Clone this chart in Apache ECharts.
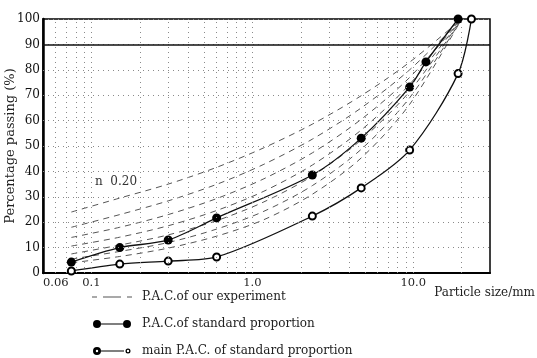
<!DOCTYPE html>
<html>
<head>
<meta charset="utf-8">
<script src="https://cdn.jsdelivr.net/npm/echarts@6/dist/echarts.min.js"></script>
<style>html,body{margin:0;padding:0;background:#fff;}#c{width:537px;height:358px;}</style>
</head>
<body>
<div id="c"></div>
<script>
// ---- data ----
const xTickLabels = [0.06, 0.1, 1, 10];
const yTicks = [0, 10, 20, 30, 40, 50, 60, 70, 80, 90, 100];
const gridX = [0.06, 0.07, 0.08, 0.09, 0.1, 0.2, 0.3, 0.4, 0.5, 0.6, 0.7, 0.8, 0.9, 1, 2, 3, 4, 5, 6, 7, 8, 9, 10, 20];
const gridY = [10, 20, 30, 40, 50, 60, 70, 80];

const upperX = [0.075, 0.15, 0.3, 0.6, 2.36, 4.75, 9.5, 12, 19];
const upperY = [4.3, 10, 13, 21.7, 38.6, 53.1, 73.2, 83.1, 100];
const lowerX = [0.075, 0.15, 0.3, 0.6, 2.36, 4.75, 9.5, 19, 23];
const lowerY = [0.8, 3.5, 4.7, 6.3, 22.4, 33.5, 48.4, 78.5, 100];

const expX = [0.075, 0.15, 0.3, 0.6, 1.18, 2.36, 4.75, 9.5, 20];
const exp1 = [24, 29.5, 35, 41.6, 49.3, 58.6, 69.8, 83, 100];
const exp2 = [18, 23, 28.4, 34.9, 42.8, 52.7, 65, 80, 100];
const exp3 = [14, 18, 23, 29.3, 37.1, 47.3, 60.5, 77, 100];
const exp4 = [10.6, 14.1, 18.6, 24.6, 32.2, 42.5, 56.3, 74.3, 100];
const exp5 = [7.5, 11, 15, 20.6, 28, 38.2, 52.4, 71.5, 100];
const exp6 = [5.5, 8.5, 12, 17.3, 24.3, 34.4, 48.7, 69, 100];
const exp7 = [4, 6.5, 9.8, 14.5, 21, 31, 45.3, 66.4, 100];
const expCurves = [exp1, exp2, exp3, exp4, exp5, exp6, exp7];

const NAME_EXP = 'P.A.C.of our experiment';
const NAME_STD = 'P.A.C.of standard proportion';
const NAME_MAIN = 'main P.A.C. of standard proportion';

const pair = (xs, ys) => xs.map((x, i) => [x, ys[i]]);
const FONT = 'DejaVu Serif';
const fmtX = v => { const n = Number(Number(v).toPrecision(3)); return n >= 1 ? n.toFixed(1) : String(n); };

const iconExp = 'path://M0,0h0.01v0.01h-0.01z M0,9.99h0.01v0.01h-0.01z M0,4.5H5V5.5H0Z M11,4.5H29V5.5H11Z M35,4.5H40V5.5H35Z';
const iconStd = 'path://M5,1 A4,4 0 1,1 5,9 A4,4 0 1,1 5,1 Z M9,4.4H31V5.6H9Z M35,1 A4,4 0 1,1 35,9 A4,4 0 1,1 35,1 Z M0,0h0.01v0.01h-0.01z M39.99,9.99h0.01v0.01h-0.01z';
const iconMain = 'path://M5,1 A4,4 0 1,1 5,9 A4,4 0 1,1 5,1 Z M5,3.8 A1.2,1.2 0 1,0 5,6.2 A1.2,1.2 0 1,0 5,3.8 Z M9,4.5H32V5.5H9Z M36,2.5 A2.5,2.5 0 1,1 36,7.5 A2.5,2.5 0 1,1 36,2.5 Z M36,3.8 A1.2,1.2 0 1,0 36,6.2 A1.2,1.2 0 1,0 36,3.8 Z M0,0h0.01v0.01h-0.01z M39.99,9.99h0.01v0.01h-0.01z';

const series = [];
// grid lines
series.push({
  type: 'line', data: [], silent: true,
  markLine: {
    silent: true, symbol: 'none', animation: false,
    label: { show: false },
    lineStyle: { color: '#8a8a8a', width: 1, type: [1, 4] },
    data: gridX.map(v => ({ xAxis: v })).concat(gridY.map(v => ({ yAxis: v })))
  }
});
series.push({
  type: 'line', data: [], silent: true,
  markLine: {
    silent: true, symbol: 'none', animation: false,
    label: { show: false },
    lineStyle: { color: '#111', width: 1.6, type: 'solid' },
    data: [{ yAxis: 90 }]
  }
});
// x tick labels (irregular log positions)
series.push({
  type: 'line', data: [], silent: true,
  markLine: {
    silent: true, symbol: 'none', animation: false,
    lineStyle: { color: 'rgba(0,0,0,0)', width: 1 },
    label: { show: true, position: 'start', distance: 4, align: 'center', verticalAlign: 'top',
      formatter: p => fmtX(p.value),
      fontFamily: FONT, fontSize: 11.5, color: '#222' },
    data: xTickLabels.map(v => ({ xAxis: v }))
  }
});
expCurves.forEach(c => {
  series.push({
    name: NAME_EXP, type: 'line', data: pair(expX, c), smooth: 0.3,
    symbol: 'none', color: '#555',
    lineStyle: { color: '#555', width: 1, type: [6, 5] }
  });
});
series.push({
  name: NAME_STD, type: 'line', data: pair(upperX, upperY), smooth: 0.3,
  symbol: 'circle', symbolSize: 9, color: '#000',
  itemStyle: { color: '#000' },
  lineStyle: { color: '#111', width: 1.3 }
});
series.push({
  name: NAME_MAIN, type: 'line', data: pair(lowerX, lowerY), smooth: 0.3,
  symbol: 'emptyCircle', symbolSize: 7, color: '#000',
  itemStyle: { color: '#000', borderColor: '#000', borderWidth: 3.5 },
  lineStyle: { color: '#111', width: 1.3 }
});

const chart = echarts.init(document.getElementById('c'), null, { renderer: 'canvas' });
chart.setOption({
  animation: false,
  backgroundColor: '#fff',
  grid: { left: 43, right: 47, top: 19, bottom: 85, containLabel: false, outerBoundsMode: 'none',
    show: true, borderColor: '#000', borderWidth: 1.5, backgroundColor: 'transparent' },
  xAxis: {
    type: 'log', logBase: 10, min: 0.05, max: 30,
    axisLine: { show: true, lineStyle: { color: '#000', width: 2 } },
    axisTick: { show: false },
    splitLine: { show: false },
    axisLabel: { show: false }
  },
  yAxis: {
    type: 'value', min: 0, max: 100, interval: 10,
    name: 'Percentage passing (%)', nameLocation: 'middle', nameGap: 26, nameMoveOverlap: false,
    nameTextStyle: { fontFamily: FONT, fontSize: 13, color: '#222' },
    axisLine: { show: true, lineStyle: { color: '#000', width: 2.5 } },
    axisTick: { show: false },
    splitLine: { show: true, lineStyle: { color: '#8a8a8a', width: 1, type: [1, 4] } },
    axisLabel: { color: '#111', fontFamily: FONT, fontSize: 12, margin: 3,
      formatter: v => (yTicks.indexOf(v) >= 0 ? String(v) : '') }
  },
  legend: {
    orient: 'vertical', left: 92, top: 291, padding: 0, itemWidth: 50, itemHeight: 10, itemGap: 15,
    selectedMode: false,
    itemStyle: { borderWidth: 0 },
    textStyle: { fontFamily: FONT, fontSize: 12, color: '#222' },
    data: [
      { name: NAME_EXP, icon: iconExp },
      { name: NAME_STD, icon: iconStd },
      { name: NAME_MAIN, icon: iconMain }
    ]
  },
  graphic: [
    { type: 'text', left: 95, top: 176, style: { text: 'n  0.20', fontFamily: FONT, fontSize: 12, fill: '#333' } },
    { type: 'text', right: 2, top: 287, style: { text: 'Particle size/mm', fontFamily: FONT, fontSize: 12, fill: '#222' } }
  ],
  series: series
});
</script>
</body>
</html>
